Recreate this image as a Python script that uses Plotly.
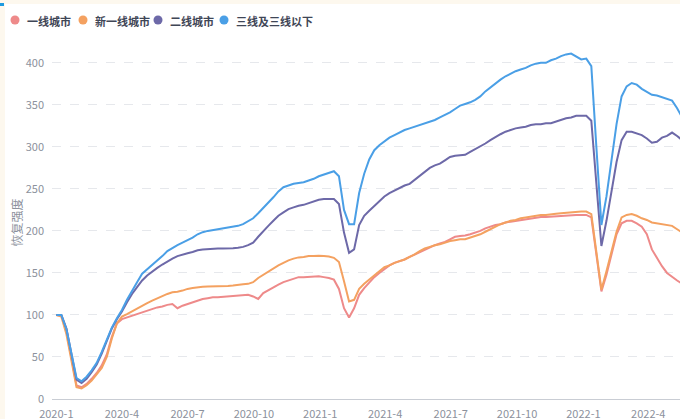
import pandas as pd
import plotly.graph_objects as go

series_names = ["一线城市", "新一线城市", "二线城市", "三线及三线以下"]
colors = ["#ee8a8a", "#f4a160", "#6d69a8", "#4a9fe6"]

tier1 = [100, 99, 83, 48, 16, 14, 18, 24, 31, 40, 53, 74, 90, 95, 97, 99, 101, 103, 105, 107,
         109, 110, 112, 113, 108, 111, 113, 115, 117, 119, 120, 121, 121, 121.5, 122, 122, 123, 123.5, 124, 122,
         119, 126, 129, 133, 136, 139, 141, 143, 145, 145, 145.5, 145.5, 146, 145, 144, 142, 131, 108, 97, 108,
         124, 132, 139, 145, 150, 155, 159, 162, 164, 166, 169, 172, 175, 177, 180, 183, 185, 187, 190, 193,
         194, 194.5, 196, 198, 200, 203, 205, 207, 208, 210, 211, 212, 213, 214, 215, 216, 216.5, 216.5, 217, 217,
         217.5, 218, 219, 219, 219, 219, 216, 172, 128, 148, 172, 196, 209, 212, 212, 209, 205, 196, 178, 168,
         158, 150, 145, 141, 137]

new_tier1 = [100, 98, 77, 43, 14, 12.5, 16.5, 22, 29, 37, 50, 72, 90, 98, 101, 104, 107, 111, 114, 117,
             120, 122, 125, 127, 127.5, 129, 131, 132, 133, 133.5, 134, 134, 134, 134.5, 134.5, 135, 136, 136.5, 137, 139,
             144, 148, 152, 155, 159, 162, 165, 167, 168.5, 169, 170, 170, 170.5, 170, 169.5, 168, 163, 140, 116, 118,
             131, 137, 142, 147, 152, 157, 159, 162, 164, 166, 169, 172, 176, 179, 181, 183, 184, 186, 188, 189,
             190, 190, 192, 194, 196, 199, 202, 205, 208, 210, 212, 213, 215, 216, 217, 218, 219, 219, 220, 220.5,
             221, 221.5, 222, 223, 223, 223, 220, 175, 130, 152, 176, 199, 216, 219, 220, 218, 215, 213, 210, 209,
             208, 207, 206, 202, 198]

tier2 = [100, 100, 84, 54, 23, 19, 24, 32, 41, 54, 69, 84, 95, 104, 115, 125, 133, 141, 147, 152,
         156, 160, 164, 167, 170, 172, 173.5, 175, 177, 178, 178.5, 179, 179, 179, 179, 179.5, 180, 181, 183, 186,
         193, 200, 206, 212, 218, 222, 226, 228, 230, 231, 233, 235, 237, 238, 238, 238, 232, 198, 174, 178,
         207, 218, 224, 230, 235, 241, 245, 248, 251, 254, 256, 261, 266, 270, 275, 278, 280, 284, 288, 289.5,
         290, 290.5, 294, 297, 301, 304, 308, 312, 315, 318, 320, 322, 323, 324, 326, 327, 327, 328, 328, 330,
         332, 334, 335, 337, 337, 337, 331, 260, 182, 212, 247, 282, 308, 318, 318, 316, 314, 310, 305, 306,
         311, 313, 317, 313, 308]

tier3 = [100, 100, 83, 55, 25, 21, 26.5, 34, 43, 56, 71, 85, 96, 106, 118, 129, 139, 149, 154, 159,
         165, 170, 176, 180, 183, 186, 189, 192, 196, 198.5, 200, 201, 202, 203, 204, 205, 206, 208, 211, 215,
         221, 227, 233, 240, 247, 252, 254, 256, 257, 258, 260, 262, 265, 267, 269, 271, 265, 225, 208, 208,
         245, 268, 285, 296, 302, 307, 311, 314, 317, 320, 322, 324, 326, 328, 330, 332, 335, 338, 341, 345,
         349, 351, 353, 356, 360, 366, 371, 375, 380, 384, 387, 390, 392, 394, 397, 399, 400, 400, 403, 405,
         408, 410, 411, 407, 404, 405, 396, 300, 207, 241, 284, 327, 360, 372, 376, 374, 369, 365, 362, 361,
         359, 357, 355, 346, 335]

all_series = [tier1, new_tier1, tier2, tier3]
dates = pd.date_range("2020-01-01", periods=len(tier1), freq="7D")

y_ticks = [0, 50, 100, 150, 200, 250, 300, 350, 400]

FONT = "Noto Sans CJK SC, Noto Sans, sans-serif"
W, H = 680, 419
ML, MR, MT, MB = 52, 0, 46, 20
PW, PH = W - ML - MR, H - MT - MB

def px_x(p):
    return (p - ML) / PW

def px_y(q):
    return (H - MB - q) / PH

fig = go.Figure()
for name, vals, col in zip(series_names, all_series, colors):
    fig.add_trace(go.Scatter(x=dates, y=vals, name=name, mode="lines",
                             line=dict(color=col, width=2), showlegend=False))

shapes = []
annotations = []
# manual legend
dot_px = [15, 83, 158, 224]
for name, col, dx in zip(series_names, colors, dot_px):
    shapes.append(dict(type="circle", xref="paper", yref="paper",
                       xsizemode="pixel", ysizemode="pixel",
                       xanchor=px_x(dx), yanchor=px_y(20),
                       x0=-4.5, x1=4.5, y0=-4.5, y1=4.5,
                       fillcolor=col, line=dict(width=0)))
    annotations.append(dict(text=name, xref="paper", yref="paper",
                            x=px_x(dx + 10), y=px_y(21), xanchor="left", yanchor="middle",
                            showarrow=False,
                            font=dict(family=FONT, size=11, color="#3f4656", weight=700)))

# page border strips
shapes.append(dict(type="rect", xref="paper", yref="paper", layer="below",
                   x0=px_x(0), x1=px_x(5), y0=px_y(H), y1=px_y(0),
                   fillcolor="#fdf8ee", line=dict(width=0)))
shapes.append(dict(type="rect", xref="paper", yref="paper", layer="below",
                   x0=px_x(0), x1=px_x(W), y0=px_y(4), y1=px_y(0),
                   fillcolor="#fdf8ee", line=dict(width=0)))
shapes.append(dict(type="rect", xref="paper", yref="paper",
                   x0=px_x(0), x1=px_x(4), y0=px_y(6), y1=px_y(3),
                   fillcolor="#1e9be0", line=dict(width=0)))

fig.update_layout(
    width=W, height=H,
    margin=dict(l=ML, r=MR, t=MT, b=MB, autoexpand=False),
    paper_bgcolor="white", plot_bgcolor="white",
    font=dict(family=FONT, color="#8c919c", size=11),
    shapes=shapes, annotations=annotations,
    showlegend=False,
)
fig.update_xaxes(
    type="date", range=["2019-12-26", "2022-05-15"],
    tick0="2020-01-01", dtick="M3", tickformat="%Y-%-m",
    showgrid=False, showline=True, linecolor="#c9cdd4", linewidth=1,
    ticks="outside", ticklen=5, tickcolor="rgba(0,0,0,0)", automargin=False,
    tickfont=dict(family=FONT, size=11, color="#8c919c"),
    zeroline=False,
)
fig.update_yaxes(
    range=[0, 420], tickvals=y_ticks, automargin=False,
    showgrid=True, gridcolor="#e6e8ec", griddash="dash", gridwidth=1,
    zeroline=False, showline=False,
    tickfont=dict(family=FONT, size=11, color="#8c919c"),
    ticklabelstandoff=7,
    title=dict(text="恢复强度", font=dict(family=FONT, size=12, color="#8c919c"), standoff=0),
)

fig.write_html(
    "out.html",
    config={"displayModeBar": False},
    post_script="document.body.style.margin='0';document.body.style.padding='0';",
)
